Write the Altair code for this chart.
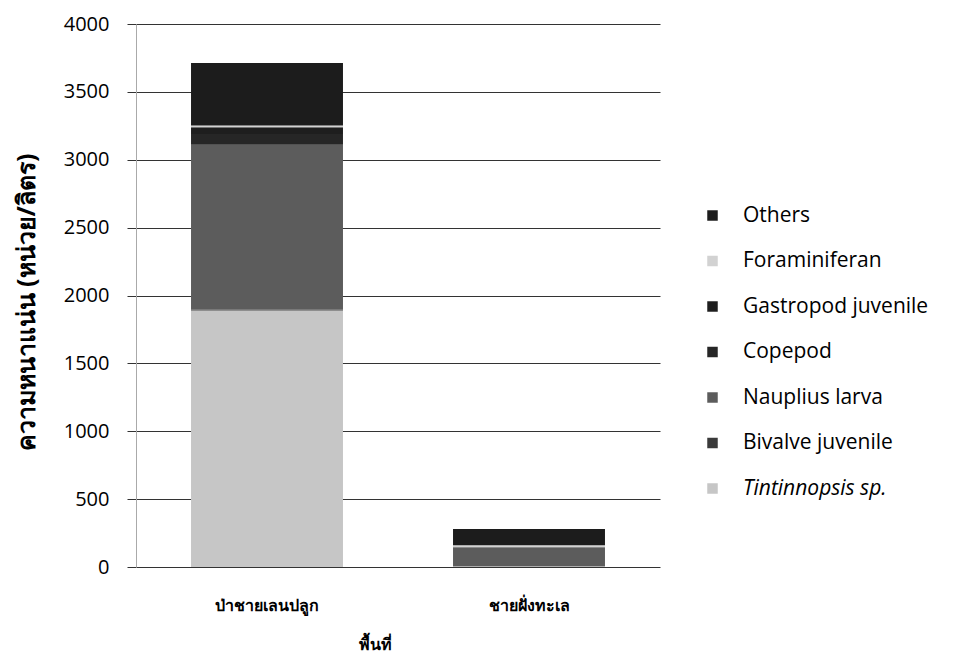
import altair as alt
import pandas as pd

sites = ["ป่าชายเลนปลูก", "ชายฝั่งทะเล"]
# legend order (top to bottom)
taxa = ["Others", "Foraminiferan", "Gastropod juvenile", "Copepod",
        "Nauplius larva", "Bivalve juvenile", "Tintinnopsis sp."]
# stack order from bottom
stack_order = ["Tintinnopsis sp.", "Bivalve juvenile", "Nauplius larva", "Copepod",
               "Gastropod juvenile", "Foraminiferan", "Others"]
colors = ["#1c1c1c", "#d2d2d2", "#1e1e1e", "#262626", "#5c5c5c", "#3a3a3a", "#c6c6c6"]

# values per site, in stack_order
mangrove = [1890, 5, 1215, 80, 50, 12, 460]
coast = [5, 2, 133, 3, 2, 15, 120]

rows = []
for site, vals in zip(sites, [mangrove, coast]):
    for i, (t, v) in enumerate(zip(stack_order, vals)):
        rows.append({"site": site, "taxon": t, "value": v, "ord": i})
df = pd.DataFrame(rows)

chart = alt.Chart(df).mark_bar().encode(
    x=alt.X("site:N", sort=sites, title="พื้นที่",
            scale=alt.Scale(paddingInner=0.42, paddingOuter=0.21),
            axis=alt.Axis(labelAngle=0, domain=False, ticks=False, labelPadding=30,
                          labelFontSize=16, labelFontWeight="bold", labelColor="#000",
                          titleFontSize=16, titleFontWeight="bold", titleColor="#000",
                          titleX=222, titleY=77, titleBaseline="middle", titleAnchor="start")),
    y=alt.Y("sum(value):Q", title="ความหนาแน่น (หน่วย/ลิตร)",
            scale=alt.Scale(domain=[0, 4000]),
            axis=alt.Axis(values=[0, 500, 1000, 1500, 2000, 2500, 3000, 3500, 4000],
                          format="d", labelFontSize=20, labelColor="#000",
                          labelFont="Open Sans", labelPadding=18, tickSize=9,
                          tickColor="#333", domainColor="#aaa", gridColor="#333",
                          titleFontSize=25, titleFontWeight="bold", titleColor="#000",
                          titleX=-110, titleY=278, titleAngle=-90,
                          titleBaseline="middle", titleAnchor="middle")),
    color=alt.Color("taxon:N", sort=taxa,
                    scale=alt.Scale(domain=taxa, range=colors),
                    legend=alt.Legend(title=None, orient="none", legendX=566, legendY=181,
                                      symbolType="square", symbolSize=110,
                                      symbolStrokeWidth=0, labelFontSize=21,
                                      labelFont="Open Sans", labelColor="#000",
                                      labelOffset=20, rowPadding=23.5, labelLimit=400,
                                      labelFontStyle=alt.ExprRef(
                                          "datum.label == 'Tintinnopsis sp.' ? 'italic' : 'normal'"))),
    order=alt.Order("ord:Q", sort="ascending"),
).properties(
    width=524, height=543,
    autosize=alt.AutoSizeParams(type="none"),
    padding={"left": 128, "top": 16, "right": 300, "bottom": 90},
    background="white",
).configure_view(stroke=None).configure_axis(labelFont="Noto Sans", titleFont="Noto Sans")

chart.save("out.html", embed_options={"renderer": "svg", "actions": False})
